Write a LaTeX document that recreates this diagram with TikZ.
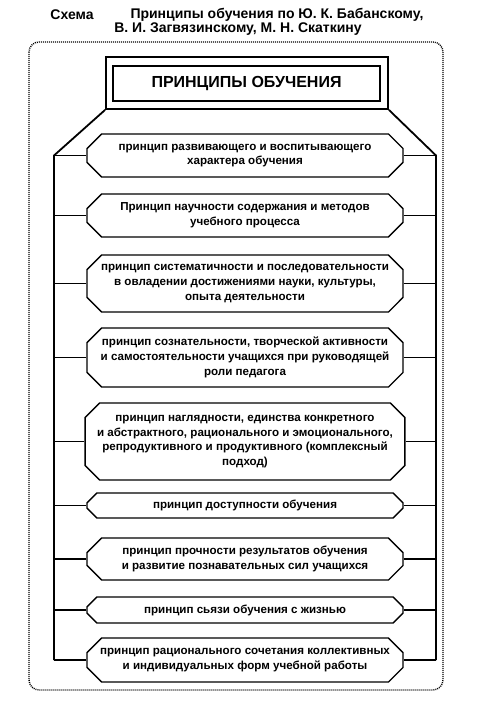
\documentclass[tikz,border=0pt]{standalone}
\usepackage{fontspec}
\setmainfont{Liberation Sans}
\usetikzlibrary{shapes.misc,calc}

\begin{document}
\begin{tikzpicture}[x=1pt,y=-1pt,
    principle/.style={draw, line width=1.4pt, chamfered rectangle,
      chamfered rectangle xsep=11pt, minimum width=316pt, inner sep=1pt,
      align=center, font=\fontsize{11.6}{14.8}\selectfont\bfseries},
    frame/.style={line width=1.8pt},
    link/.style={line width=1.4pt},
    titletext/.style={inner sep=0pt, font=\fontsize{14}{16}\selectfont\bfseries}
  ]
  \useasboundingbox (0,0) rectangle (478,708);

  \node[titletext] (schema) at (72,15) {Схема};
  \node[titletext] (title1) at (277,15) {Принципы обучения по Ю. К. Бабанскому,};
  \node[titletext] (title2) at (238,29.5) {В. И. Загвязинскому, М. Н. Скаткину};

  \draw[line width=1.4pt, dash pattern=on 1pt off 1pt, rounded corners=10pt]
    (29,42) rectangle (443,690);

  \node[frame, draw, minimum width=282pt, minimum height=52pt] (head) at (247,83) {};
  \node[draw, line width=1.4pt, minimum width=267pt, minimum height=35pt,
    font=\fontsize{16}{18}\selectfont\bfseries] (headin) at (246.5,83.5) {ПРИНЦИПЫ ОБУЧЕНИЯ};

  \node[principle, minimum height=43pt] (b1) at (245,155.5)
    {принцип развивающего и воспитывающего\\характера обучения};
  \node[principle, minimum height=43pt] (b2) at (245,215.5)
    {Принцип научности содержания и методов\\учебного процесса};
  \node[principle, minimum height=57pt] (b3) at (245,283.5)
    {принцип систематичности и последовательности\\в овладении достижениями науки, культуры,\\опыта деятельности};
  \node[principle, minimum height=59pt] (b4) at (245,357.5)
    {принцип сознательности, творческой активности\\и самостоятельности учащихся при руководящей\\роли педагога};
  \node[principle, minimum height=77pt] (b5) at (245,441.5)
    {принцип наглядности, единства конкретного\\и абстрактного, рационального и эмоционального,\\репродуктивного и продуктивного (комплексный\\подход)};
  \node[principle, minimum height=25pt] (b6) at (245,505.5)
    {принцип доступности обучения};
  \node[principle, minimum height=42pt] (b7) at (245,559)
    {принцип прочности результатов обучения\\и развитие познавательных сил учащихся};
  \node[principle, minimum height=26pt] (b8) at (245,610)
    {принцип сьязи обучения с жизнью};
  \node[principle, minimum height=44pt] (b9) at (245,660)
    {принцип рационального сочетания коллективных\\и индивидуальных форм учебной работы};

  \coordinate (lt) at (54,155.5);
  \coordinate (rt) at (436,155.5);
  \draw[frame] (head.south west) -- (lt) -- (lt |- b9.west);
  \draw[frame] (head.south east) -- (rt) -- (rt |- b9.east);
  \foreach \b in {b1,b2,b3,b4,b5,b6,b7,b8,b9} {
    \draw[link] (\b.west) -- (\b.west -| lt);
    \draw[link] (\b.east) -- (\b.east -| rt);
  }
\end{tikzpicture}
\end{document}
